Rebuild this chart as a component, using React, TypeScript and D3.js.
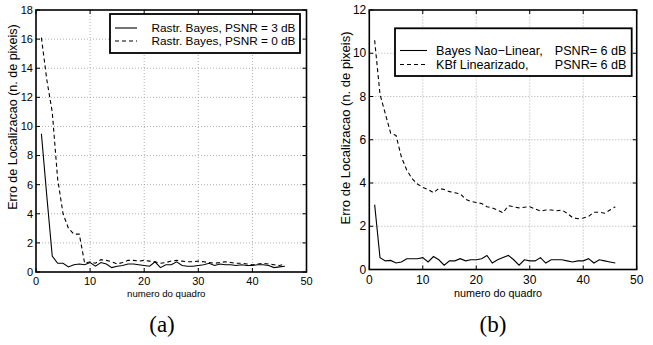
import React from 'react'
import * as d3 from 'd3'

// frame numbers (x) shared by every series
const frames = [
  1, 2, 3, 4, 5, 6, 7, 8, 9, 10, 11, 12, 13, 14, 15, 16, 17, 18, 19, 20, 21, 22, 23,
  24, 25, 26, 27, 28, 29, 30, 31, 32, 33, 34, 35, 36, 37, 38, 39, 40, 41, 42, 43, 44, 45, 46
]

// panel (a)
const bayes3dB = [
  9.5, 5.2, 1.1, 0.6, 0.6, 0.35, 0.5, 0.55, 0.5, 0.65, 0.4, 0.65, 0.55, 0.3, 0.4, 0.45,
  0.55, 0.55, 0.5, 0.45, 0.4, 0.7, 0.3, 0.5, 0.5, 0.7, 0.45, 0.4, 0.4, 0.45, 0.5, 0.6,
  0.45, 0.55, 0.5, 0.5, 0.45, 0.5, 0.45, 0.45, 0.5, 0.5, 0.45, 0.3, 0.35, 0.4
]
const bayes0dB = [
  16.1, 13.2, 11.0, 6.4, 4.0, 3.0, 2.6, 2.6, 0.6, 0.7, 0.6, 0.85, 0.8, 0.7, 0.55, 0.65,
  0.8, 0.8, 0.75, 0.8, 0.75, 0.7, 0.6, 0.65, 0.75, 0.8, 0.75, 0.7, 0.7, 0.75, 0.7, 0.65,
  0.6, 0.65, 0.7, 0.65, 0.6, 0.6, 0.55, 0.5, 0.55, 0.6, 0.55, 0.5, 0.45, 0.55
]

// panel (b)
const naoLinear = [
  3.0, 0.55, 0.4, 0.42, 0.3, 0.35, 0.5, 0.5, 0.5, 0.55, 0.35, 0.6, 0.45, 0.2, 0.4, 0.4,
  0.5, 0.4, 0.45, 0.45, 0.5, 0.65, 0.3, 0.45, 0.55, 0.65, 0.45, 0.2, 0.45, 0.4, 0.4, 0.55,
  0.3, 0.45, 0.45, 0.45, 0.4, 0.35, 0.4, 0.4, 0.5, 0.3, 0.45, 0.4, 0.35, 0.3
]
const kbfLinearizado = [
  10.6, 8.1, 7.2, 6.3, 6.2, 5.2, 4.6, 4.2, 3.95, 3.8, 3.7, 3.55, 3.75, 3.7, 3.6, 3.55,
  3.5, 3.25, 3.15, 3.1, 3.05, 2.9, 2.85, 2.75, 2.62, 2.95, 2.9, 2.85, 2.88, 2.9, 2.8, 2.7,
  2.75, 2.75, 2.72, 2.75, 2.6, 2.4, 2.35, 2.38, 2.45, 2.65, 2.65, 2.6, 2.75, 2.9
]

const xTicks = [0, 10, 20, 30, 40, 50]
const yTicksA = [0, 2, 4, 6, 8, 10, 12, 14, 16, 18]
const yTicksB = [0, 2, 4, 6, 8, 10, 12]

const sans = "'Liberation Sans', Arial, Helvetica, sans-serif"
const serif = "'Liberation Serif', 'Times New Roman', serif"

function Panel(props) {
  const { x0, x1, y0, y1, yMax, yTicks, series, fs, legend, ylabelY, caption, tickDy, xlabelDy } = props
  const x = d3.scaleLinear().domain([0, 50]).range([x0, x1])
  const y = d3.scaleLinear().domain([0, yMax]).range([y0, y1])
  const line = d3
    .line()
    .x((d) => x(d[0]))
    .y((d) => y(d[1]))

  return (
    <g>
      {/* dotted grid */}
      {xTicks.slice(1, -1).map((t) => (
        <line key={'gx' + t} x1={x(t)} x2={x(t)} y1={y0} y2={y1}
          stroke="#9a9a9a" strokeWidth={0.8} strokeDasharray="1,2" />
      ))}
      {yTicks.slice(1, -1).map((t) => (
        <line key={'gy' + t} x1={x0} x2={x1} y1={y(t)} y2={y(t)}
          stroke="#9a9a9a" strokeWidth={0.8} strokeDasharray="1,2" />
      ))}

      {/* data */}
      {series.map((s, i) => (
        <path key={'s' + i} d={line(frames.map((f, j) => [f, s.values[j]]))}
          fill="none" stroke="#000" strokeWidth={1.1}
          strokeDasharray={s.dash ? '4,3' : null} />
      ))}

      {/* box and inward ticks */}
      <rect x={x0} y={y1} width={x1 - x0} height={y0 - y1} fill="none" stroke="#000" strokeWidth={1.6} />
      {xTicks.map((t) => (
        <g key={'tx' + t}>
          <line x1={x(t)} x2={x(t)} y1={y0} y2={y0 - 4} stroke="#000" strokeWidth={1} />
          <line x1={x(t)} x2={x(t)} y1={y1} y2={y1 + 4} stroke="#000" strokeWidth={1} />
          <text x={x(t)} y={y0 + tickDy} textAnchor="middle" fontSize={fs.tick} style={{ fontFamily: sans }}>{t}</text>
        </g>
      ))}
      {yTicks.map((t) => (
        <g key={'ty' + t}>
          <line x1={x0} x2={x0 + 4} y1={y(t)} y2={y(t)} stroke="#000" strokeWidth={1} />
          <line x1={x1} x2={x1 - 4} y1={y(t)} y2={y(t)} stroke="#000" strokeWidth={1} />
          <text x={x0 - 3} y={y(t)} dy="0.35em" textAnchor="end" fontSize={fs.tick} style={{ fontFamily: sans }}>{t}</text>
        </g>
      ))}

      {/* axis labels */}
      <text x={(x0 + x1) / 2 - 5} y={y0 + xlabelDy} textAnchor="middle" fontSize={fs.xlabel} style={{ fontFamily: sans }}>
        numero do quadro
      </text>
      <text transform={`translate(${x0 - 19},${ylabelY}) rotate(-90)`} textAnchor="middle"
        fontSize={fs.ylabel} style={{ fontFamily: sans }}>
        Erro de Localizacao (n. de pixeis)
      </text>

      {/* legend */}
      <rect x={legend.x} y={legend.y} width={legend.w} height={legend.h} fill="#fff" stroke="#000" strokeWidth={1.8} />
      {series.map((s, i) => {
        const ry = legend.rowY + i * legend.rowGap
        return (
          <g key={'lg' + i}>
            <line x1={legend.lx0} x2={legend.lx1} y1={ry} y2={ry} stroke="#000" strokeWidth={1.1}
              strokeDasharray={s.dash ? '4,3' : null} />
            <text x={legend.tx} y={ry} dy="0.35em" fontSize={fs.legend} style={{ fontFamily: sans }}>{s.label}</text>
            {s.label2 ? (
              <text x={legend.tx2} y={ry} dy="0.35em" textAnchor="end" fontSize={fs.legend} style={{ fontFamily: sans }}>
                {s.label2}
              </text>
            ) : null}
          </g>
        )
      })}

      <text x={caption.x} y={caption.y} textAnchor="middle" fontSize={23} style={{ fontFamily: serif }}>
        {caption.text}
      </text>
    </g>
  )
}

export default function App() {
  return (
    <svg width={653} height={345} style={{ position: 'absolute', left: 0, top: 0, background: '#fff' }}>
      <rect width={653} height={345} fill="#fff" />
      <Panel
        x0={36} x1={306.5} y0={272} y1={10} yMax={18} yTicks={yTicksA}
        fs={{ tick: 11, xlabel: 9.6, ylabel: 12.5, legend: 11.8 }}
        ylabelY={117} tickDy={13} xlabelDy={24.5}
        series={[
          { values: bayes3dB, dash: false, label: 'Rastr. Bayes, PSNR = 3 dB' },
          { values: bayes0dB, dash: true, label: 'Rastr. Bayes, PSNR = 0 dB' }
        ]}
        legend={{ x: 110, y: 14, w: 190, h: 39, rowY: 28, rowGap: 13, lx0: 115, lx1: 137, tx: 151.5 }}
        caption={{ x: 162, y: 332, text: '(a)' }}
      />
      <Panel
        x0={369.3} x1={636.7} y0={269.5} y1={10} yMax={12} yTicks={yTicksB}
        fs={{ tick: 12, xlabel: 10.8, ylabel: 13, legend: 12.6 }}
        ylabelY={128} tickDy={14} xlabelDy={27.5}
        series={[
          { values: naoLinear, dash: false, label: 'Bayes Nao\u2212Linear,', label2: 'PSNR= 6 dB' },
          { values: kbfLinearizado, dash: true, label: 'KBf Linearizado,', label2: 'PSNR= 6 dB' }
        ]}
        legend={{ x: 395, y: 28.3, w: 236.7, h: 47.7, rowY: 50.5, rowGap: 14, lx0: 400, lx1: 427, tx: 436, tx2: 626.5 }}
        caption={{ x: 493, y: 332, text: '(b)' }}
      />
    </svg>
  )
}
